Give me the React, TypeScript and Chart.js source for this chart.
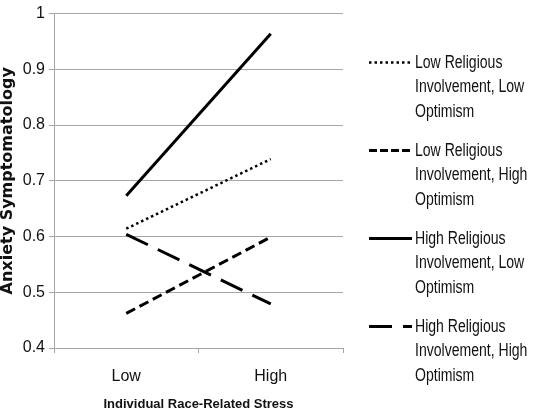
import React, { useEffect, useRef } from "react";
import { Chart, registerables } from "chart.js";

Chart.register(...registerables);

// Race-related stress levels on the x axis
const stressLevels = ["Low", "High"];

// Anxiety symptomatology by religious involvement x optimism group
const lowRelLowOpt = [0.614, 0.739];
const lowRelHighOpt = [0.462, 0.599];
const highRelLowOpt = [0.673, 0.964];
const highRelHighOpt = [0.604, 0.479];

// Legend text, one array of lines per group
const groupLabels = [
  ["Low Religious", "Involvement, Low", "Optimism"],
  ["Low Religious", "Involvement, High", "Optimism"],
  ["High Religious", "Involvement, Low", "Optimism"],
  ["High Religious", "Involvement, High", "Optimism"],
];

const yMin = 0.4;
const yMax = 1;
const yStep = 0.1;

const SANS = "'Liberation Sans', Arial, sans-serif";
const GRID = "#a6a6a6";
const INK = "#111111";

// dash patterns for the plotted lines and the legend samples
const lineDashes = [[2.5, 3], [10, 5], [], [24, 11]];
const sampleDashes = [[2.5, 3], [8, 3], [], [23, 11]];
const lineWidths = [2.5, 3, 3, 3];

// Multi-line legend drawn beside the plot, in a condensed face
const sideLegend = {
  id: "sideLegend",
  afterDraw(chart: any) {
    const { ctx, chartArea } = chart;
    const x0 = chartArea.right + 26;
    const sampleLen = 43;
    const textX = x0 + sampleLen + 3;
    const firstY = chartArea.top + 49;
    const itemGap = 88;
    const lineGap = 24.5;
    ctx.save();
    chart.data.datasets.forEach((ds: any, i: number) => {
      const y = firstY + i * itemGap;
      ctx.save();
      ctx.strokeStyle = "#000";
      ctx.lineWidth = lineWidths[i];
      ctx.setLineDash(sampleDashes[i]);
      ctx.beginPath();
      ctx.moveTo(x0, y);
      ctx.lineTo(x0 + sampleLen, y);
      ctx.stroke();
      ctx.restore();
      groupLabels[i].forEach((line, j) => {
        ctx.save();
        ctx.translate(textX, y + j * lineGap);
        ctx.scale(0.78, 1);
        ctx.font = `18px ${SANS}`;
        ctx.fillStyle = INK;
        ctx.textBaseline = "middle";
        ctx.textAlign = "left";
        ctx.fillText(line, 0, 0);
        ctx.restore();
      });
    });
    ctx.restore();
  },
};

export default function App() {
  const canvasRef = useRef<HTMLCanvasElement | null>(null);

  useEffect(() => {
    const canvas = canvasRef.current;
    if (!canvas) return;
    const series = [lowRelLowOpt, lowRelHighOpt, highRelLowOpt, highRelHighOpt];
    const chart = new Chart(canvas, {
      type: "line",
      data: {
        labels: stressLevels,
        datasets: series.map((values, i) => ({
          label: groupLabels[i].join(" "),
          data: values,
          borderColor: "#000",
          backgroundColor: "#000",
          borderWidth: lineWidths[i],
          borderDash: lineDashes[i],
          borderCapStyle: "butt",
          pointRadius: 0,
          pointHoverRadius: 0,
          fill: false,
          tension: 0,
        })),
      },
      options: {
        responsive: false,
        animation: false,
        events: [],
        layout: { padding: { top: 13, right: 200, left: 0, bottom: 0 } },
        plugins: {
          legend: { display: false },
          tooltip: { enabled: false },
          title: { display: false },
        },
        scales: {
          x: {
            type: "category",
            offset: true,
            grid: {
              offset: true,
              drawOnChartArea: false,
              drawTicks: true,
              tickLength: 5,
              color: GRID,
            },
            border: { color: GRID, width: 1 },
            ticks: {
              color: INK,
              font: { family: SANS, size: 16 },
              padding: 14,
              maxRotation: 0,
            },
            title: {
              display: true,
              text: "Individual Race-Related Stress",
              color: INK,
              font: { family: SANS, size: 13, weight: "bold" },
              padding: 0,
            },
            afterFit(scale: any) {
              scale.height = 64;
            },
          },
          y: {
            min: yMin,
            max: yMax,
            grid: {
              color: GRID,
              drawTicks: true,
              tickLength: 5,
            },
            border: { color: GRID, width: 1 },
            ticks: {
              stepSize: yStep,
              color: INK,
              font: { family: SANS, size: 16 },
              padding: 4,
              callback: (v: any) => String(Number(Number(v).toFixed(1))),
            },
            title: {
              display: true,
              text: "Anxiety Symptomatology",
              color: INK,
              font: { family: "'DejaVu Sans', sans-serif", size: 16, weight: "bold", lineHeight: 1 },
              padding: 0,
            },
            afterFit(scale: any) {
              scale.width = 54;
            },
          },
        },
      },
      plugins: [sideLegend],
    });
    return () => chart.destroy();
  }, []);

  return (
    <div style={{ position: "fixed", left: 0, top: 0, width: 543, height: 412, background: "#fff" }}>
      <canvas ref={canvasRef} width={543} height={412} style={{ display: "block", width: 543, height: 412 }} />
    </div>
  );
}
